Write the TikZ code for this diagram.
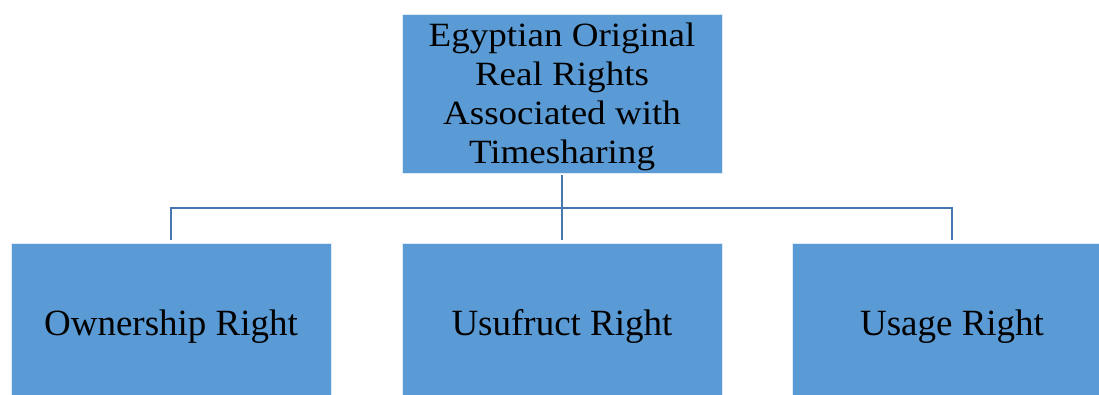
\documentclass[tikz,border=0pt]{standalone}
\usepackage{fontspec}
\setmainfont{Liberation Serif}
\newfontfamily\headfont[FakeStretch=1.09]{Liberation Serif}
\definecolor{boxfill}{RGB}{91,155,213}
\definecolor{linkcol}{RGB}{70,120,175}
\tikzset{
  rightbox/.style={rectangle, fill=boxfill, draw=white!80!boxfill, line width=0.8pt,
    minimum width=320pt, minimum height=159pt, inner sep=0pt, text depth=0pt,
    font=\fontsize{37}{38.9}\selectfont, align=center},
  headbox/.style={rightbox, font=\headfont\fontsize{34}{38.9}\selectfont},
  link/.style={draw=linkcol, line width=2.2pt, shorten <=1.5pt, shorten >=2.5pt}
}
\begin{document}
\begin{tikzpicture}[x=1pt,y=-1pt]
  \useasboundingbox (0,0) rectangle (1099,394);
  \clip (0,0) rectangle (1099,394);
  % root of the hierarchy
  \node[headbox] (root) at (562,93.5) {Egyptian Original\\Real Rights\\Associated with\\Timesharing};
  % the three kinds of right
  \node[rightbox] (own) at (171,322.5) {Ownership Right};
  \node[rightbox] (usu) at (562,322.5) {Usufruct Right};
  \node[rightbox] (use) at (952,322.5) {Usage Right};
  % branching connectors
  \coordinate (fork) at (562,208);
  \draw[link, shorten >=0pt] (root.south) -- (fork);
  \draw[link, shorten <=0pt] (fork) -| (own.north);
  \draw[link, shorten <=0pt] (fork) -- (usu.north);
  \draw[link, shorten <=0pt] (fork) -| (use.north);
\end{tikzpicture}
\end{document}
